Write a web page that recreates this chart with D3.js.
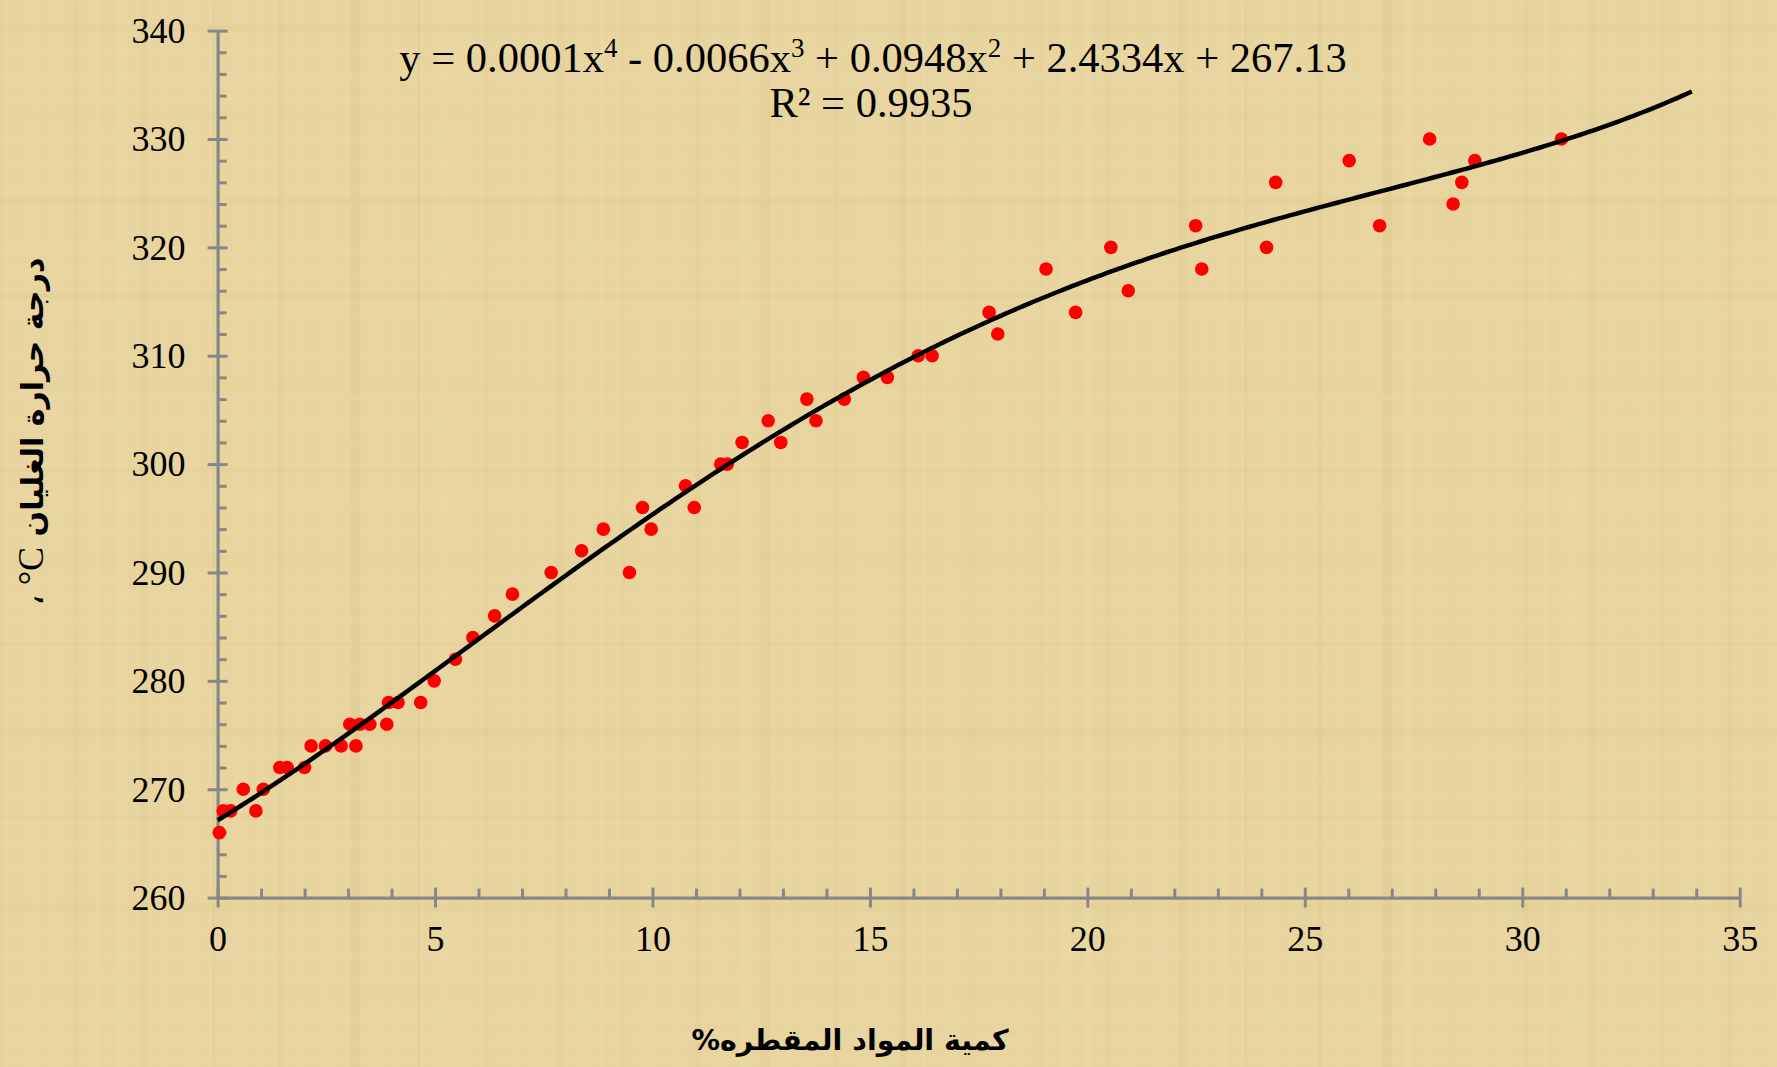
<!DOCTYPE html>
<html>
<head>
<meta charset="utf-8">
<script src="https://cdn.jsdelivr.net/npm/d3@7"></script>
<style>
  html, body { margin: 0; padding: 0; background: #E8D49E; }
  svg { display: block; }
</style>
</head>
<body>
<svg id="chart" width="1777" height="1067"></svg>
<script>
// ---- data ----
const distilledPct = [0.04,0.13,0.30,0.59,0.88,1.05,1.43,1.60,2.00,2.15,2.48,2.84,3.04,3.18,3.27,3.50,3.89,3.93,4.15,4.67,4.98,5.47,5.87,6.37,6.78,7.67,8.37,8.87,9.47,9.77,9.97,10.76,10.96,11.57,11.72,12.06,12.66,12.95,13.55,13.76,14.41,14.85,15.40,16.11,16.43,17.74,17.94,19.05,19.73,20.54,20.94,22.49,22.63,24.12,24.33,26.02,26.72,27.87,28.41,28.61,28.91,30.90];
const boilingTemp = [266,268,268,270,268,270,272,272,272,274,274,274,276,274,276,276,276,278,278,278,280,282,284,286,288,290,292,294,290,296,294,298,296,300,300,302,304,302,306,304,306,308,308,310,310,314,312,318,314,320,316,322,318,320,326,328,322,330,324,326,328,330];
const xMajorTicks = [0,5,10,15,20,25,30,35];
const yMajorTicks = [260,270,280,290,300,310,320,330,340];
const trendForward = 3; // trendline forecast forward (periods)
const equationText = ["y = 0.0001x", "4", " - 0.0066x", "3", " + 0.0948x", "2", " + 2.4334x + 267.13"];
const r2Text = "R² = 0.9935";
const yTitle = "درجة حرارة الغليان";
const yUnit = "\u200E°C ،";
const xTitle = "كمية المواد المقطره%";

const W = 1777, H = 1067;
const svg = d3.select("#chart");

// ---- papyrus-like background ----
const bg = svg.append("g");
bg.append("rect").attr("width", W).attr("height", H).attr("fill", "#E8D49E");
const vb = d3.range(0, 80);
bg.selectAll("rect.v").data(vb).enter().append("rect")
  .attr("x", i => i * 23 + (i * 13) % 7)
  .attr("y", 0).attr("width", i => 3 + (i * 7) % 9).attr("height", H)
  .attr("fill", i => (i % 3 === 0) ? "#C9AE6E" : "#F6E8C0")
  .attr("opacity", i => 0.05 + ((i * 5) % 7) * 0.012);
const hb = d3.range(0, 50);
bg.selectAll("rect.h").data(hb).enter().append("rect")
  .attr("y", i => i * 22 + (i * 11) % 9)
  .attr("x", 0).attr("height", i => 3 + (i * 5) % 8).attr("width", W)
  .attr("fill", i => (i % 4 === 1) ? "#C9AE6E" : "#F6E8C0")
  .attr("opacity", i => 0.04 + ((i * 3) % 5) * 0.012);

// ---- scales ----
const x = d3.scaleLinear().domain([0, 35]).range([217.6, 1739.7]);
const y = d3.scaleLinear().domain([260, 340]).range([897.6, 30.6]);

const axisColor = "#878787";
const serif = "'Liberation Serif', 'Times New Roman', serif";

// minor ticks
const xMinor = d3.range(0, 36, 1).filter(v => v % 5 !== 0);
const yMinor = d3.range(260, 341, 2).filter(v => v % 10 !== 0);

// x axis
const gx = svg.append("g").attr("transform", `translate(0,${y(260)})`);
gx.call(d3.axisBottom(x).tickValues(xMajorTicks).tickSizeInner(10).tickSizeOuter(0).tickPadding(18).tickFormat(d3.format("d")));
gx.append("g").call(d3.axisBottom(x).tickValues(xMajorTicks).tickSize(-10).tickFormat(""));
gx.append("g").call(d3.axisBottom(x).tickValues(xMinor).tickSize(-9).tickFormat(""));
// y axis
const gy = svg.append("g").attr("transform", `translate(${x(0)},0)`);
gy.call(d3.axisLeft(y).tickValues(yMajorTicks).tickSizeInner(10).tickSizeOuter(0).tickPadding(22).tickFormat(d3.format("d")));
gy.append("g").call(d3.axisLeft(y).tickValues(yMajorTicks).tickSize(-10).tickFormat(""));
gy.append("g").call(d3.axisLeft(y).tickValues(yMinor).tickSize(-9).tickFormat(""));

svg.selectAll(".domain").attr("stroke", axisColor).attr("stroke-width", 3.2);
svg.selectAll(".tick line").attr("stroke", axisColor).attr("stroke-width", 3);
svg.selectAll(".tick text").attr("font-family", serif).attr("font-size", 36).attr("fill", "#000");
gy.selectAll(".tick text").attr("dy", "0.33em");
gy.selectAll("g").selectAll(".domain").remove();
gx.selectAll("g").selectAll(".domain").remove();

// ---- polynomial (order 4) least-squares trendline from the points ----
function polyFit(xs, ys, deg) {
  const n = deg + 1, s = 10; // scale x for stability
  const A = Array.from({length: n}, () => new Array(n + 1).fill(0));
  xs.forEach((xv, k) => {
    const t = xv / s;
    for (let i = 0; i < n; i++) {
      for (let j = 0; j < n; j++) A[i][j] += Math.pow(t, i + j);
      A[i][n] += Math.pow(t, i) * ys[k];
    }
  });
  for (let c = 0; c < n; c++) {
    let p = c;
    for (let r = c + 1; r < n; r++) if (Math.abs(A[r][c]) > Math.abs(A[p][c])) p = r;
    [A[c], A[p]] = [A[p], A[c]];
    for (let r = 0; r < n; r++) {
      if (r === c) continue;
      const f = A[r][c] / A[c][c];
      for (let k = c; k <= n; k++) A[r][k] -= f * A[c][k];
    }
  }
  const coef = A.map((row, i) => row[n] / row[i]);
  return xv => coef.reduce((acc, cf, i) => acc + cf * Math.pow(xv / s, i), 0);
}
const trend = polyFit(distilledPct, boilingTemp, 4);
const x0 = 0, x1 = d3.max(distilledPct) + trendForward;
const curvePts = d3.range(0, 301).map(i => x0 + (x1 - x0) * i / 300).map(v => [v, trend(v)]);

// points
svg.append("g").selectAll("circle").data(distilledPct).enter().append("circle")
  .attr("cx", d => x(d)).attr("cy", (d, i) => y(boilingTemp[i])).attr("r", 6.8)
  .attr("fill", "#FF0000");

svg.append("path").datum(curvePts)
  .attr("d", d3.line().x(d => x(d[0])).y(d => y(d[1])).curve(d3.curveLinear))
  .attr("fill", "none").attr("stroke", "#000").attr("stroke-width", 4.5).attr("stroke-linecap", "butt");

// ---- equation labels ----
const eq = svg.append("text").attr("x", 873).attr("y", 72).attr("text-anchor", "middle")
  .attr("font-family", serif).attr("font-size", 42.5).attr("fill", "#000");
equationText.forEach((t, i) => {
  const ts = eq.append("tspan").text(t);
  if (i % 2 === 1) ts.attr("font-size", 27).attr("dy", -15);
  else if (i > 0) ts.attr("dy", 15);
});
svg.append("text").attr("x", 871).attr("y", 117).attr("text-anchor", "middle")
  .attr("font-family", serif).attr("font-size", 42.5).attr("fill", "#000").text(r2Text);

// ---- axis titles ----
const yt = svg.append("text")
  .attr("transform", "translate(43,432) rotate(-90)")
  .attr("text-anchor", "middle").attr("direction", "rtl")
  .attr("font-family", "'DejaVu Sans', sans-serif").attr("font-weight", "bold")
  .attr("font-size", 30).attr("fill", "#000");
yt.append("tspan").text(yTitle + " ");
yt.append("tspan").attr("font-family", serif).attr("font-weight", "normal").attr("font-size", 36).text(yUnit);

svg.append("text").attr("x", 850).attr("y", 1050).attr("text-anchor", "middle").attr("direction", "rtl")
  .attr("font-family", "'DejaVu Sans', sans-serif").attr("font-weight", "bold")
  .attr("font-size", 28.5).attr("fill", "#000").text(xTitle);
</script>
</body>
</html>
